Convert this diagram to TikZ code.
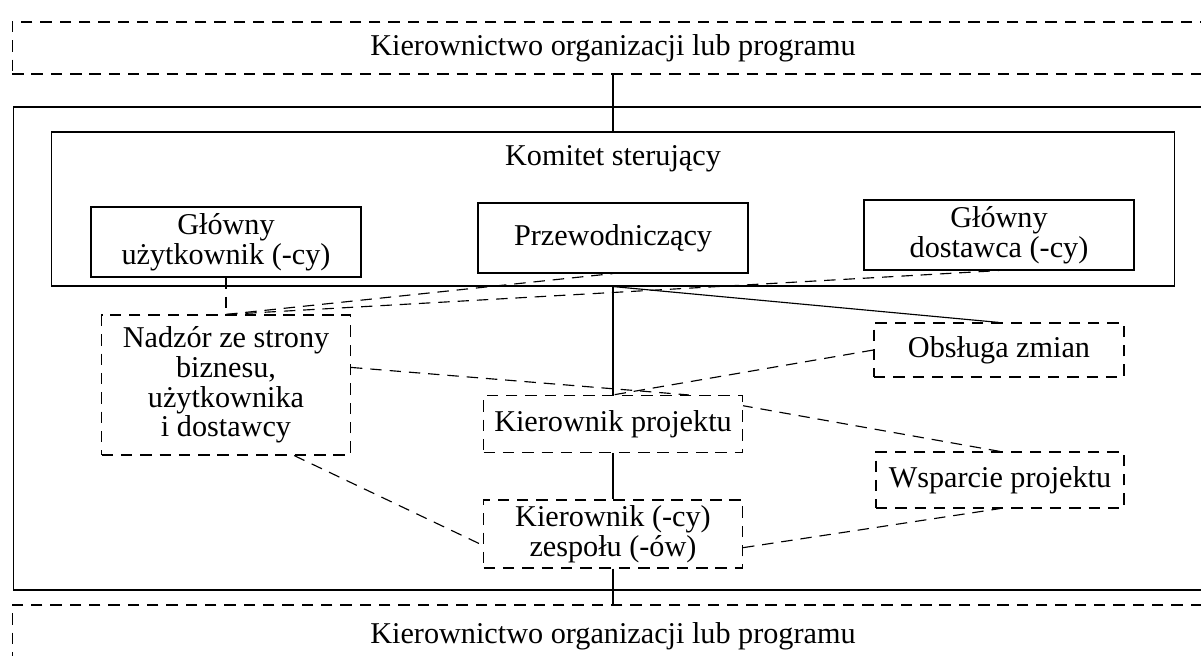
\documentclass[tikz,border=0pt]{standalone}
\usepackage{fontspec}
\setmainfont{Liberation Serif}

\begin{document}
\begin{tikzpicture}[
  x=0.02cm, y=-0.02cm,
  font=\fontsize{17.2}{16.8}\selectfont,
  box/.style={draw, line width=0.65pt, align=center, inner sep=2pt},
  dbox/.style={box, dash pattern=on 6.5pt off 4.5pt},
  link/.style={line width=0.65pt},
  dlink/.style={link, dash pattern=on 6.5pt off 4.5pt}
]
\useasboundingbox (0,0) rectangle (1201,656);
\clip (0,0) rectangle (1201,656);

\node[dbox, minimum width=24.04cm, minimum height=1.04cm] (orgtop) at (613,48)
  {Kierownictwo organizacji lub programu};
\node[box, minimum width=23.92cm, minimum height=9.66cm] (zespol) at (611,348.5) {};
\node[box, minimum width=22.48cm, minimum height=3.08cm] (komitet) at (613,209) {};
\node (komitettxt) at (613,159) {Komitet sterujący};

\node[box, minimum width=5.4cm, minimum height=1.4cm] (uzyt) at (226,242)
  {Główny\\użytkownik (-cy)};
\node[box, minimum width=5.4cm, minimum height=1.4cm] (przew) at (613,238)
  {Przewodniczący};
\node[box, minimum width=5.4cm, minimum height=1.4cm] (dostawca) at (999,235)
  {Główny\\dostawca (-cy)};

\node[dbox, minimum width=4.98cm, minimum height=2.8cm] (nadzor) at (226,385)
  {Nadzór ze strony\\biznesu,\\użytkownika\\i dostawcy};
\node[dbox, minimum width=5.0cm, minimum height=1.08cm] (obsluga) at (999,350)
  {Obsługa zmian};
\node[dbox, minimum width=5.18cm, minimum height=1.14cm] (kp) at (613,424)
  {Kierownik projektu};
\node[dbox, minimum width=4.96cm, minimum height=1.12cm] (wsparcie) at (1000,480)
  {Wsparcie projektu};
\node[dbox, minimum width=5.18cm, minimum height=1.36cm] (kz) at (613,534)
  {Kierownik (-cy)\\zespołu (-ów)};

\node[dbox, minimum width=24.04cm, minimum height=1.24cm] (orgbottom) at (613,636)
  {Kierownictwo organizacji lub programu};

\draw[link] (orgtop.south) -- (komitet.north);
\draw[link] (komitet.south) -- (kp.north);
\draw[link] (komitet.south) -- (obsluga.north);
\draw[link] (kp.south) -- (kz.north);
\draw[link] (kz.south) -- (orgbottom.north);

\draw[dlink] (uzyt.south) -- (nadzor.north);
\draw[dlink] (nadzor.north) -- (przew.south);
\draw[dlink] (nadzor.north) -- (dostawca.south);
\draw[dlink] (nadzor.8) -- (kp.21);
\draw[dlink] (obsluga.west) -- (kp.north);
\draw[dlink] (wsparcie.north) -- (kp.8);
\draw[dlink] (nadzor.-46) -- (kz.185);
\draw[dlink] (kz.-6) -- (wsparcie.south);
\end{tikzpicture}
\end{document}
